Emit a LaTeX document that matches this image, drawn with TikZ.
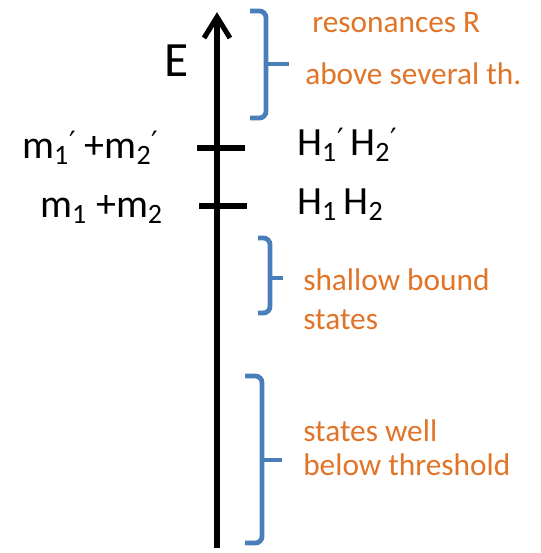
\documentclass[tikz,border=0pt]{standalone}
\usepackage{fontspec}
\setmainfont{Carlito}
\newfontfamily\primefont{DejaVu Sans}
\definecolor{braceblue}{RGB}{74,126,187}
\definecolor{txtorange}{RGB}{226,116,40}
\newcommand{\pr}{\raisebox{4pt}{\fontsize{22}{22}\primefont\char"2032}}
\begin{document}
\begin{tikzpicture}[x=0.75pt,y=-0.75pt,
  axisline/.style={line width=3.8pt,black},
  bracestyle/.style={line width=3.6pt,braceblue,rounded corners=5pt},
  blacklbl/.style={anchor=base west,inner sep=0pt,font=\fontsize{30}{36}\selectfont},
  orangelbl/.style={anchor=base west,inner sep=0pt,text=txtorange,font=\fontsize{23.5}{28}\selectfont}]
\useasboundingbox[fill=white] (0,0) rectangle (540,553);
% axis
\coordinate (bot) at (217,548);
\coordinate (top) at (217,17);
\coordinate (barbL) at (204,38);
\coordinate (barbR) at (230,38);
\draw[axisline] (bot) -- (top);
\draw[axisline,line join=miter] (barbL) -- (top) -- (barbR);
% ticks
\coordinate (t1a) at (197,148); \coordinate (t1b) at (245,148);
\coordinate (t2a) at (199,206); \coordinate (t2b) at (247,206);
\draw[axisline] (t1a) -- (t1b);
\draw[axisline] (t2a) -- (t2b);
% labels
\node[anchor=base west,inner sep=0pt,font=\fontsize{37}{44}\selectfont] (E) at (164,76) {E};
\node[blacklbl] (m2) at (22,158) {m\textsubscript{1}\pr{} +m\textsubscript{2}\pr};
\node[blacklbl] (m1) at (40,217) {m\textsubscript{1} +m\textsubscript{2}};
\node[blacklbl] (h2) at (297,155) {H\textsubscript{1}\pr\,H\textsubscript{2}\pr};
\node[blacklbl] (h1) at (297,214) {H\textsubscript{1}\,H\textsubscript{2}};
% braces
\draw[bracestyle] (250,11) -- (266,11) -- (266,118) -- (250,118);
\draw[bracestyle] (266,64) -- (289,64);
\draw[bracestyle] (258,238) -- (270,238) -- (270,313) -- (258,313);
\draw[bracestyle] (270,278) -- (283,278);
\draw[bracestyle] (245,376) -- (262,376) -- (262,543) -- (245,543);
\draw[bracestyle] (262,460) -- (282,460);
% orange texts
\node[orangelbl] (r1) at (312,32) {resonances R};
\node[orangelbl] (r2) at (305,84) {above several th.};
\node[orangelbl] (s1) at (303,290) {shallow bound};
\node[orangelbl] (s2) at (303,329) {states};
\node[orangelbl] (w1) at (303,441) {states well};
\node[orangelbl] (w2) at (303,475) {below threshold};
\end{tikzpicture}
\end{document}
